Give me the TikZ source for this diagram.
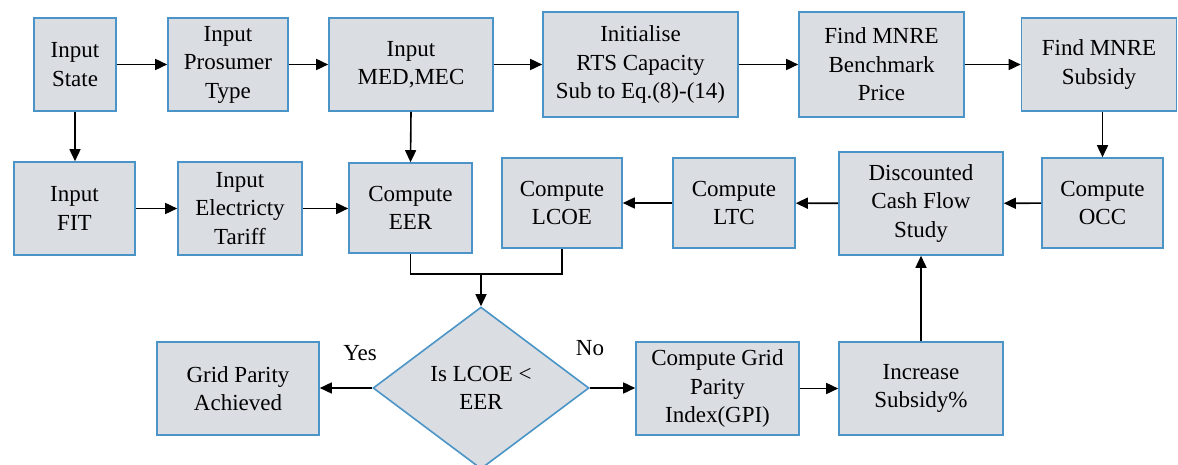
\documentclass[tikz,border=0pt]{standalone}
\usepackage{fontspec}
\setmainfont{LiberationSerif-Regular.ttf}
\usetikzlibrary{shapes.geometric,arrows.meta}
\definecolor{boxfill}{RGB}{218,221,226}
\definecolor{boxline}{RGB}{74,148,200}
\begin{document}
\begin{tikzpicture}[x=1pt,y=-1pt,
  font=\fontsize{23}{28.5}\selectfont,
  box/.style={draw=boxline,fill=boxfill,line width=1.6pt,align=center,inner sep=2pt},
  dec/.style={draw=boxline,fill=boxfill,line width=1.6pt,align=center,shape=diamond,inner sep=0pt,minimum width=216pt,minimum height=162pt,aspect=1.333},
  arr/.style={line width=1.6pt,-{Triangle[length=12pt,width=11pt]}},
  ln/.style={line width=1.6pt}]
\useasboundingbox (0,0) rectangle (1178,465);
% row 1
\node[box,minimum width=82pt,minimum height=93pt] (state) at (75,64.5) {Input\\State};
\node[box,minimum width=120pt,minimum height=93pt] (pros) at (228,64.5) {Input\\Prosumer\\Type};
\node[box,minimum width=164pt,minimum height=93pt] (med) at (411,64.5) {Input\\MED,MEC};
\node[box,minimum width=195pt,minimum height=105pt] (init) at (640.5,64.5) {Initialise\\RTS Capacity\\Sub to Eq.(8)-(14)};
\node[box,minimum width=165pt,minimum height=105pt] (bench) at (881.5,64.5) {Find MNRE\\Benchmark\\Price};
\node[box,minimum width=155pt,minimum height=93pt] (subs) at (1099,64.5) {Find MNRE\\Subsidy};
% row 2
\node[box,minimum width=121pt,minimum height=93pt] (fit) at (74.5,208.5) {Input\\FIT};
\node[box,minimum width=124pt,minimum height=93pt] (tariff) at (240,208.5) {Input\\Electricty\\Tariff};
\node[box,minimum width=123pt,minimum height=90pt] (eer) at (410.5,208) {Compute\\EER};
\node[box,minimum width=120pt,minimum height=90pt] (lcoe) at (562,203) {Compute\\LCOE};
\node[box,minimum width=122pt,minimum height=90pt] (ltc) at (734,203) {Compute\\LTC};
\node[box,minimum width=164pt,minimum height=103pt] (dcf) at (921,203.5) {Discounted\\Cash Flow\\Study};
\node[box,minimum width=121pt,minimum height=90pt] (occ) at (1102.5,203) {Compute\\OCC};
% row 3
\node[box,minimum width=162pt,minimum height=93pt] (gpa) at (238,388.5) {Grid Parity\\Achieved};
\node[dec] (dia) at (481,388) {Is LCOE <\\EER};
\node[box,minimum width=163pt,minimum height=93pt] (gpi) at (717.5,388.5) {Compute Grid\\Parity\\Index(GPI)};
\node[box,minimum width=164pt,minimum height=93pt] (inc) at (921,388.5) {Increase\\Subsidy\%};
\node (yes) at (360,353) {Yes};
\node (no) at (590,348) {No};
\coordinate (join) at (481,274);
% connectors row 1
\draw[arr] (state) -- (pros);
\draw[arr] (pros) -- (med);
\draw[arr] (med) -- (init);
\draw[arr] (init) -- (bench);
\draw[arr] (bench) -- (subs);
% verticals
\draw[arr] (state.south) -- (state.south |- fit.north);
\draw[arr] (med.south) -- (eer.north);
\draw[arr] (occ.north |- subs.south) -- (occ.north);
% row 2
\draw[arr] (fit.east) -- (fit.east -| tariff.west);
\draw[arr] (tariff.east) -- (tariff.east -| eer.west);
\draw[arr] (occ) -- (dcf);
\draw[arr] (dcf) -- (ltc);
\draw[arr] (ltc) -- (lcoe);
% merge
\draw[ln] (eer.south) |- (join) -| (lcoe.south);
\draw[arr] (join) -- (dia.north);
% row 3
\draw[arr] (dia.west) -- (gpa.east |- dia.west);
\draw[arr] (dia.east) -- (gpi.west |- dia.east);
\draw[arr] (gpi) -- (inc);
\draw[arr] (inc.north) -- (dcf.south);
\end{tikzpicture}
\end{document}
